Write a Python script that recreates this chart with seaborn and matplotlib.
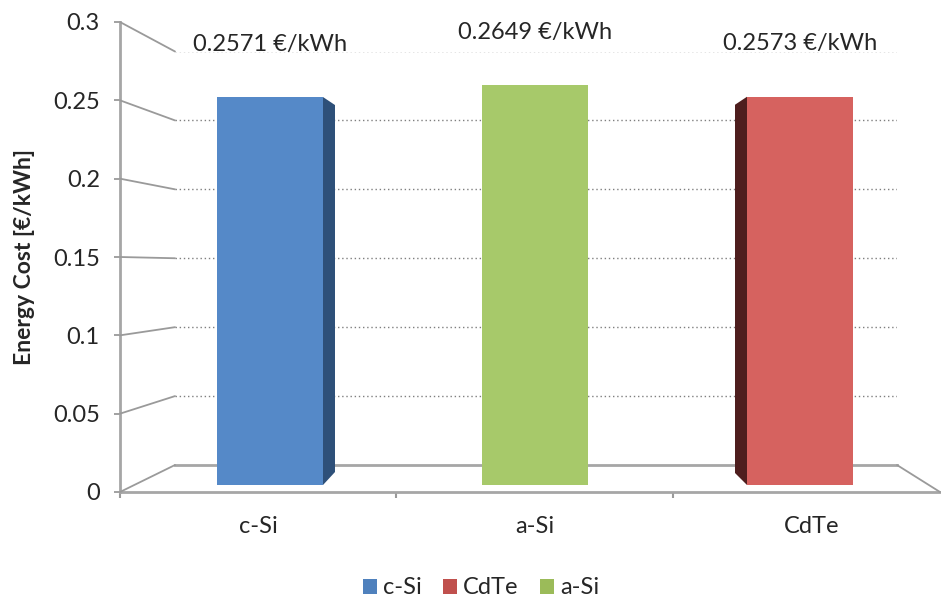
import numpy as np
import pandas as pd
import matplotlib
matplotlib.use("Agg")
import matplotlib.pyplot as plt
import seaborn as sns
from matplotlib.patches import ConnectionPatch, Polygon, Patch
from matplotlib.transforms import IdentityTransform

# ---- data ----
techs = ["c-Si", "a-Si", "CdTe"]
costs = [0.2571, 0.2649, 0.2573]
value_labels = ["0.2571 €/kWh", "0.2649 €/kWh", "0.2573 €/kWh"]
bar_colors = ["#5589C8", "#A7C96A", "#D6625F"]
side_colors = ["#2E5079", None, "#4E1E1E"]
side_dirs = [1, 0, -1]
legend_names = ["c-Si", "CdTe", "a-Si"]
legend_colors = ["#4F81BD", "#C0504D", "#9BBB59"]
yticks = [0, 0.05, 0.1, 0.15, 0.2, 0.25, 0.3]
ytick_labels = ["0", "0.05", "0.1", "0.15", "0.2", "0.25", "0.3"]
ylabel = "Energy Cost [€/kWh]"

W, H = 941, 601
sns.set_theme(style="white")
plt.rcParams['font.family'] = ['Lato', 'DejaVu Sans']
FS = 17
GRAY = "#9a9a9a"

fig = plt.figure(figsize=(W / 100, H / 100), dpi=100)
fig.patch.set_facecolor("white")


def px_axes(left, top, right, bottom):
    return fig.add_axes([left / W, (H - bottom) / H, (right - left) / W, (bottom - top) / H])


# back wall
ax_wall = px_axes(175, 51.5, 897, 465)
ax_wall.set_facecolor("none")
ax_wall.set_xlim(0, 1)
ax_wall.set_ylim(0, 0.3)
for v in yticks[1:]:
    ax_wall.axhline(v, color="#7f7f7f", lw=1.0, ls=(0, (1, 2)))
for s in ["left", "right", "top"]:
    ax_wall.spines[s].set_visible(False)
ax_wall.spines["bottom"].set_color("#a6a6a6")
ax_wall.spines["bottom"].set_linewidth(2)
ax_wall.set_xticks([])
ax_wall.set_yticks([])

# front axes (ticks / labels)
ax_front = px_axes(120, 22, 940, 492)
ax_front.set_facecolor("none")
ax_front.set_xlim(-0.5, 2.466)
ax_front.set_ylim(0, 0.3)
ax_front.set_yticks(yticks)
ax_front.set_yticklabels(ytick_labels, fontsize=FS)
ax_front.set_xticks(range(len(techs)))
ax_front.set_xticklabels(techs, fontsize=FS)
ax_front.set_xticks([-0.5, 0.5, 1.5], minor=True)
ax_front.tick_params(axis="y", length=4.5, width=1.3, color=GRAY, pad=10, left=True)
ax_front.tick_params(axis="x", which="major", length=0, pad=17, bottom=True)
ax_front.tick_params(axis="x", which="minor", length=4, width=1.5, color=GRAY, bottom=True)
for s in ["right", "top"]:
    ax_front.spines[s].set_visible(False)
for s in ["left", "bottom"]:
    ax_front.spines[s].set_color("#a6a6a6")
    ax_front.spines[s].set_linewidth(2)
ax_front.set_ylabel(ylabel, fontsize=16.5, fontweight="bold")
ax_front.yaxis.set_label_coords(-85 / 820, 0.5)

# diagonal connectors from front axis to back wall
for v in yticks:
    con = ConnectionPatch(xyA=(0, v), coordsA=ax_front.get_yaxis_transform(),
                          xyB=(0, v), coordsB=ax_wall.get_yaxis_transform(),
                          color=GRAY, lw=1.3)
    fig.add_artist(con)
con = ConnectionPatch(xyA=(1, 0), coordsA=ax_wall.transAxes,
                      xyB=(1, 0), coordsB=ax_front.transAxes, color=GRAY, lw=1.3)
fig.add_artist(con)

# bars
ax_b = px_axes(137.5, 32.3, 932.5, 485)
ax_b.set_facecolor("none")
df = pd.DataFrame({"tech": techs, "cost": costs})
sns.barplot(data=df, x="tech", y="cost", hue="tech", palette=bar_colors,
            width=0.4, saturation=1, legend=False, ax=ax_b, zorder=3)
ax_b.set_xlim(-0.5, 2.5)
ax_b.set_ylim(0, 0.3)
ax_b.axis("off")

for i, p in enumerate(ax_b.patches):
    p.set_edgecolor("none")
    x0, y0 = ax_b.transData.transform((p.get_x(), 0))
    x1, y1 = ax_b.transData.transform((p.get_x() + p.get_width(), p.get_height()))
    d = side_dirs[i]
    if d == 1:
        poly = [(x1, y1), (x1 + 12, y1 - 8), (x1 + 12, y0 + 13), (x1, y0)]
    elif d == -1:
        poly = [(x0, y1), (x0 - 12, y1 - 8), (x0 - 12, y0 + 12), (x0, y0)]
    else:
        poly = None
    if poly is not None:
        fig.add_artist(Polygon(poly, closed=True, facecolor=side_colors[i],
                               edgecolor="none", transform=IdentityTransform()))
    ax_b.text(i, costs[i] + 0.035, value_labels[i], ha="center", va="center", fontsize=FS)

# legend
handles = [Patch(facecolor=c, edgecolor="none", label=n) for n, c in zip(legend_names, legend_colors)]
fig.legend(handles=handles, loc="center", bbox_to_anchor=(481 / W, 1 - 588 / H), ncol=3,
           frameon=False, fontsize=FS, handlelength=0.6, handleheight=0.6,
           handletextpad=0.25, columnspacing=0.9)

fig.savefig("out.png", dpi=100, facecolor="white")
